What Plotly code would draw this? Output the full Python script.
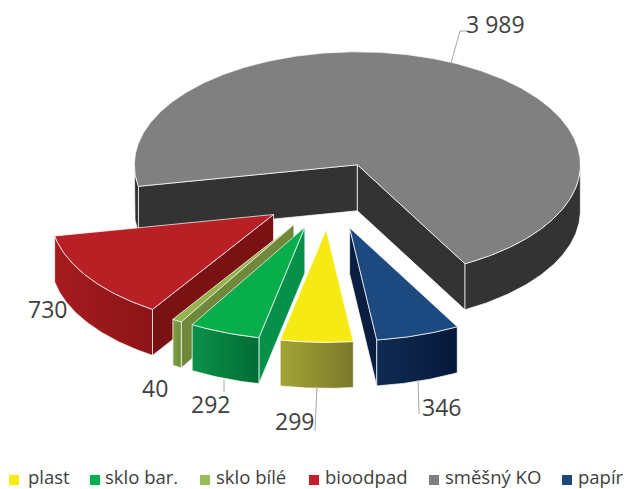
import numpy as np
import plotly.graph_objects as go

# ---- data ----
categories = ["plast", "sklo bar.", "sklo bílé", "bioodpad", "směšný KO", "papír"]
values = [299, 292, 40, 730, 3989, 346]

# ---- styles ----
top_colors = ["#f5ea14", "#08ae4c", "#93b44c", "#b92025", "#808080", "#1c4a80"]
legend_colors = ["#fbe90f", "#00b050", "#9bbb59", "#c0202a", "#7f7f7f", "#1f497d"]
arc_colors = [("#a3a435", "#7a792b"), ("#0c9149", "#006c36"), ("#80a045", "#6c8a3c"),
              ("#a51c20", "#8c1417"), ("#333333", "#333333"), ("#0f2b52", "#06183a")]
side_colors = ["#7a792b", "#07904a", "#6f883c", "#7a1214", "#333333", "#0a1e42"]
TEXT = "#404040"
EDGE = "rgba(255,255,255,0.8)"

# ---- pie geometry ----
first_angle = 83.0      # degrees, clockwise on screen from 3 o'clock
CX, CY = 329.0, 195.5
RX, RY = 223.0, 113.0
DEPTH = 46.0
EXPLODE = 0.30
draw_order = [4, 5, 3, 2, 1, 0]

fig = go.Figure()


def poly(xs, ys, color, gradient=None, edge=EDGE):
    kw = dict(fillcolor=color)
    if gradient:
        kw = dict(fillgradient=dict(type="horizontal",
                                    colorscale=[[0, gradient[0]], [1, gradient[1]]]))
    fig.add_trace(go.Scatter(
        x=list(xs) + [xs[0]], y=list(ys) + [ys[0]], mode="lines", fill="toself",
        line=dict(color=edge, width=0.9), hoverinfo="skip", showlegend=False, **kw))


def ring(ax, ay, theta):
    return ax + RX * np.cos(theta), ay + RY * np.sin(theta)


total = sum(values)
sweeps = [v / total * 2 * np.pi for v in values]
starts = np.deg2rad(first_angle) + np.concatenate(([0], np.cumsum(sweeps)[:-1]))

for i in draw_order:
    t0, t1 = starts[i], starts[i] + sweeps[i]
    mid = (t0 + t1) / 2
    ax = CX + EXPLODE * RX * np.cos(mid)
    ay = CY + EXPLODE * RY * np.sin(mid)
    th = np.linspace(t0, t1, max(4, int(np.degrees(t1 - t0) * 2)))
    # radial walls facing the viewer
    if np.cos(t0) < 0:
        ex, ey = ring(ax, ay, t0)
        poly([ax, ex, ex, ax], [ay, ey, ey + DEPTH, ay + DEPTH], side_colors[i])
    if np.cos(t1) > 0:
        ex, ey = ring(ax, ay, t1)
        poly([ax, ex, ex, ax], [ay, ey, ey + DEPTH, ay + DEPTH], side_colors[i])
    # outer wall, only where it faces the viewer
    vis = np.sin(th) > 0
    idx = np.where(vis)[0]
    if len(idx):
        groups = np.split(idx, np.where(np.diff(idx) > 1)[0] + 1)
        for g in groups:
            ax_x, ax_y = ring(ax, ay, th[g])
            poly(list(ax_x) + list(ax_x[::-1]), list(ax_y) + list(ax_y[::-1] + DEPTH),
                 arc_colors[i][0], gradient=arc_colors[i])
    # top face
    px, py = ring(ax, ay, th)
    poly([ax] + list(px), [ay] + list(py), top_colors[i])

# ---- data labels and leader lines ----
label_xy = [(294, 421), (210, 404), (155, 388), (47, 309), (495, 24), (441, 407)]
leaders = [[(317, 386), (315, 431)], [(224, 380), (224, 392)], None, None,
           [(451, 63), (460, 31), (467, 31)], [(418, 380), (419, 414)]]
for v, (lx, ly), lead in zip(values, label_xy, leaders):
    if lead:
        fig.add_trace(go.Scatter(x=[p[0] for p in lead], y=[p[1] for p in lead], mode="lines",
                                 line=dict(color="#a6a6a6", width=1), hoverinfo="skip",
                                 showlegend=False))
    fig.add_annotation(x=lx, y=ly, text=f"{v:,}".replace(",", " "), showarrow=False,
                       font=dict(family="Open Sans", size=23, color=TEXT),
                       bgcolor="rgba(255,255,255,0)")

# ---- legend row ----
legend_x = [14, 95, 205, 314, 434, 567]
text_x = [28, 105, 216, 325, 445, 578]
MARKER_Y = 480
TEXT_Y = 476
for name, col, lx, tx in zip(categories, legend_colors, legend_x, text_x):
    fig.add_trace(go.Scatter(x=[lx], y=[MARKER_Y], mode="markers",
                             marker=dict(symbol="square", size=10, color=col),
                             hoverinfo="skip", showlegend=False, cliponaxis=False))
    fig.add_annotation(x=tx, y=TEXT_Y, text=name, showarrow=False, xanchor="left",
                       xshift=-1, borderpad=0,
                       font=dict(family="Open Sans", size=18.5, color=TEXT))

fig.update_xaxes(range=[0, 630], visible=False, fixedrange=True)
fig.update_yaxes(range=[489, 0], visible=False, fixedrange=True)
fig.update_layout(width=630, height=489, margin=dict(l=0, r=0, t=0, b=0),
                  paper_bgcolor="white", plot_bgcolor="white", showlegend=False)
fig.write_html("out.html", config={"displayModeBar": False},
               post_script="document.body.style.margin='0';document.documentElement.style.overflow='hidden';")
